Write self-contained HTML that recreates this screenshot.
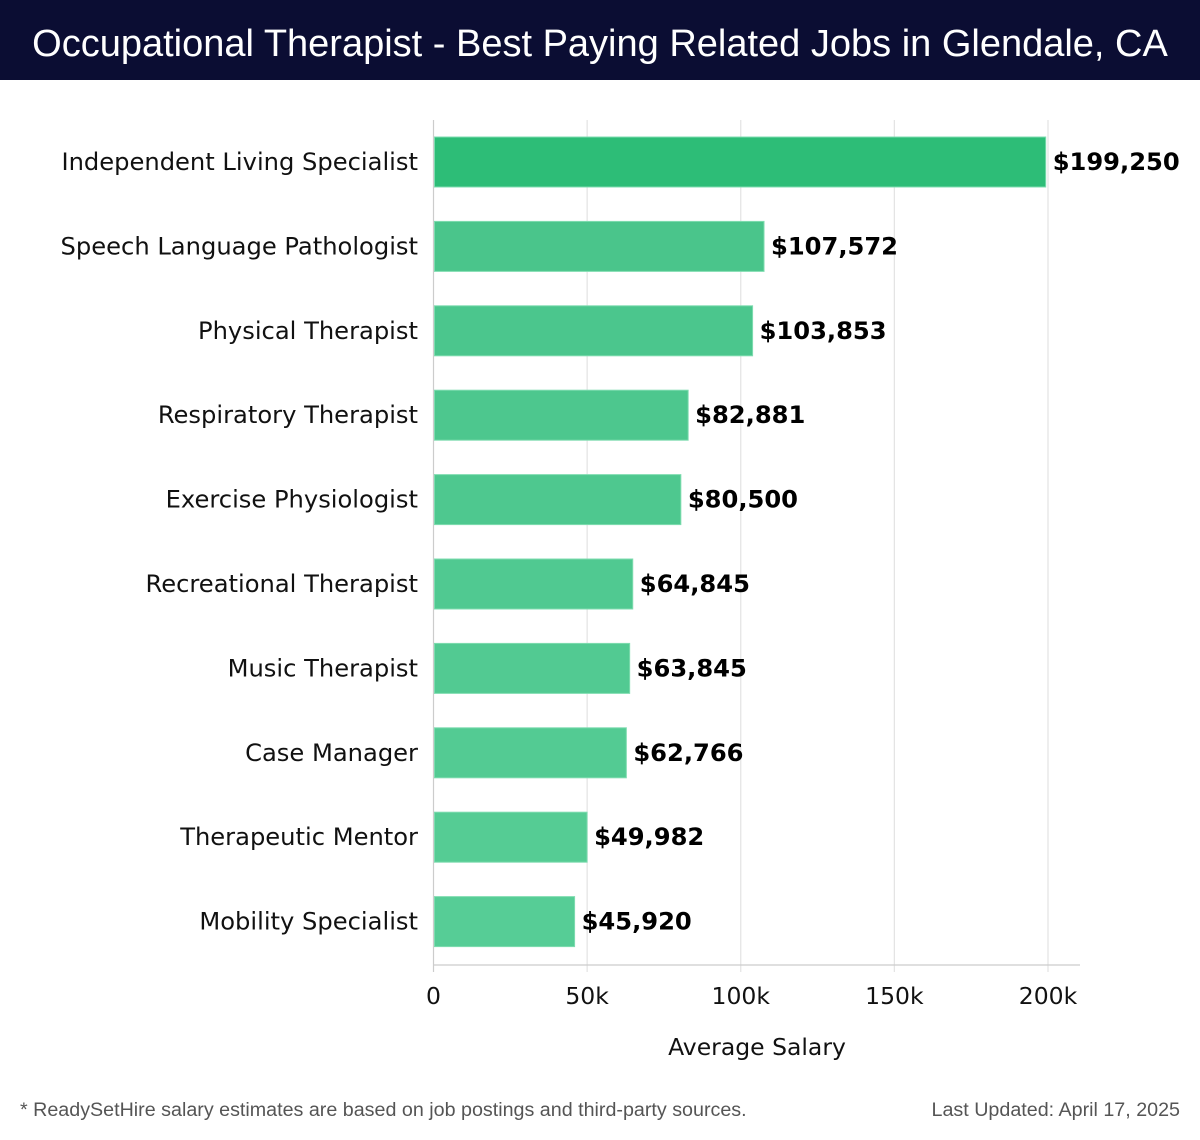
<!DOCTYPE html>
<html><head><meta charset="utf-8">
<style>
body{margin:0;background:#fff;}
#wrap{position:relative;width:1200px;height:1140px;overflow:hidden;font-family:"DejaVu Sans","Liberation Sans",sans-serif;}
#hdr{position:absolute;left:0;top:0;width:1200px;height:80px;background:#0b0d33;color:#fff;font-family:"Liberation Sans","DejaVu Sans",sans-serif;font-size:38px;line-height:88px;text-align:center;white-space:nowrap;}
.foot{position:absolute;top:1099px;font-size:19.7px;color:#555;font-family:"Liberation Sans","DejaVu Sans",sans-serif;}
</style></head><body>
<div id="wrap">
<div id="hdr">Occupational Therapist - Best Paying Related Jobs in Glendale, CA</div>
<svg id="chart" width="1200" height="1140" style="position:absolute;left:0;top:0"></svg>
<div class="foot" style="left:20px">* ReadySetHire salary estimates are based on job postings and third-party sources.</div>
<div class="foot" style="right:20px">Last Updated: April 17, 2025</div>
</div>
<script>
const categories=["Independent Living Specialist","Speech Language Pathologist","Physical Therapist","Respiratory Therapist","Exercise Physiologist","Recreational Therapist","Music Therapist","Case Manager","Therapeutic Mentor","Mobility Specialist"];
const salaries=[199250,107572,103853,82881,80500,64845,63845,62766,49982,45920];
const valueLabels=["$199,250","$107,572","$103,853","$82,881","$80,500","$64,845","$63,845","$62,766","$49,982","$45,920"];
const ticks=[0,50000,100000,150000,200000];
const tickLabels=["0","50k","100k","150k","200k"];

const svg=document.getElementById('chart');
const NS='http://www.w3.org/2000/svg';
const X0=433.5,X1=1048,plotTop=120,plotBottom=965;
const xs=v=>X0+(v/200000)*(X1-X0);
const step=84.4,firstC=162,barH=50;
const yc=i=>firstC+i*step;
function mk(t,a){const e=document.createElementNS(NS,t);for(const k in a)e.setAttribute(k,a[k]);svg.appendChild(e);return e;}
ticks.forEach((t,i)=>{
  const g=mk('line',{x1:xs(t),x2:xs(t),y1:plotTop,y2:972,stroke:i==0?'#ccc':'#e3e3e3','stroke-width':1.2});
  
  
  const tl=mk('text',{x:xs(t),y:1004,'text-anchor':'middle','font-size':23.5,fill:'#111'});
  tl.textContent=tickLabels[i];
  
  
});
const ax=mk('line',{x1:X0,x2:1080,y1:plotBottom,y2:plotBottom,stroke:'#ccc','stroke-width':1.2});


const at=mk('text',{x:757,y:1055,'text-anchor':'middle','font-size':23.5,fill:'#111'});
at.textContent='Average Salary';


categories.forEach((c,i)=>{
  const col=i==0?'#2dbd77':`rgb(${72+i*1.6},${196+i*1},${138+i*1.3})`;
  const r=mk('rect',{x:X0+1,y:yc(i)-barH/2,width:xs(salaries[i])-X0-1,height:barH,fill:col,stroke:'#7fdcb0','stroke-width':1});
  
  
  const l=mk('text',{x:418,y:yc(i)+8,'text-anchor':'end','font-size':24.2,fill:'#111'});
  l.textContent=c;
  
  
  const v=mk('text',{x:xs(salaries[i])+7,y:yc(i)+8,'font-size':24.2,'font-weight':'bold',fill:'#000'});
  v.textContent=valueLabels[i];
  
  
});
</script>
</body></html>
